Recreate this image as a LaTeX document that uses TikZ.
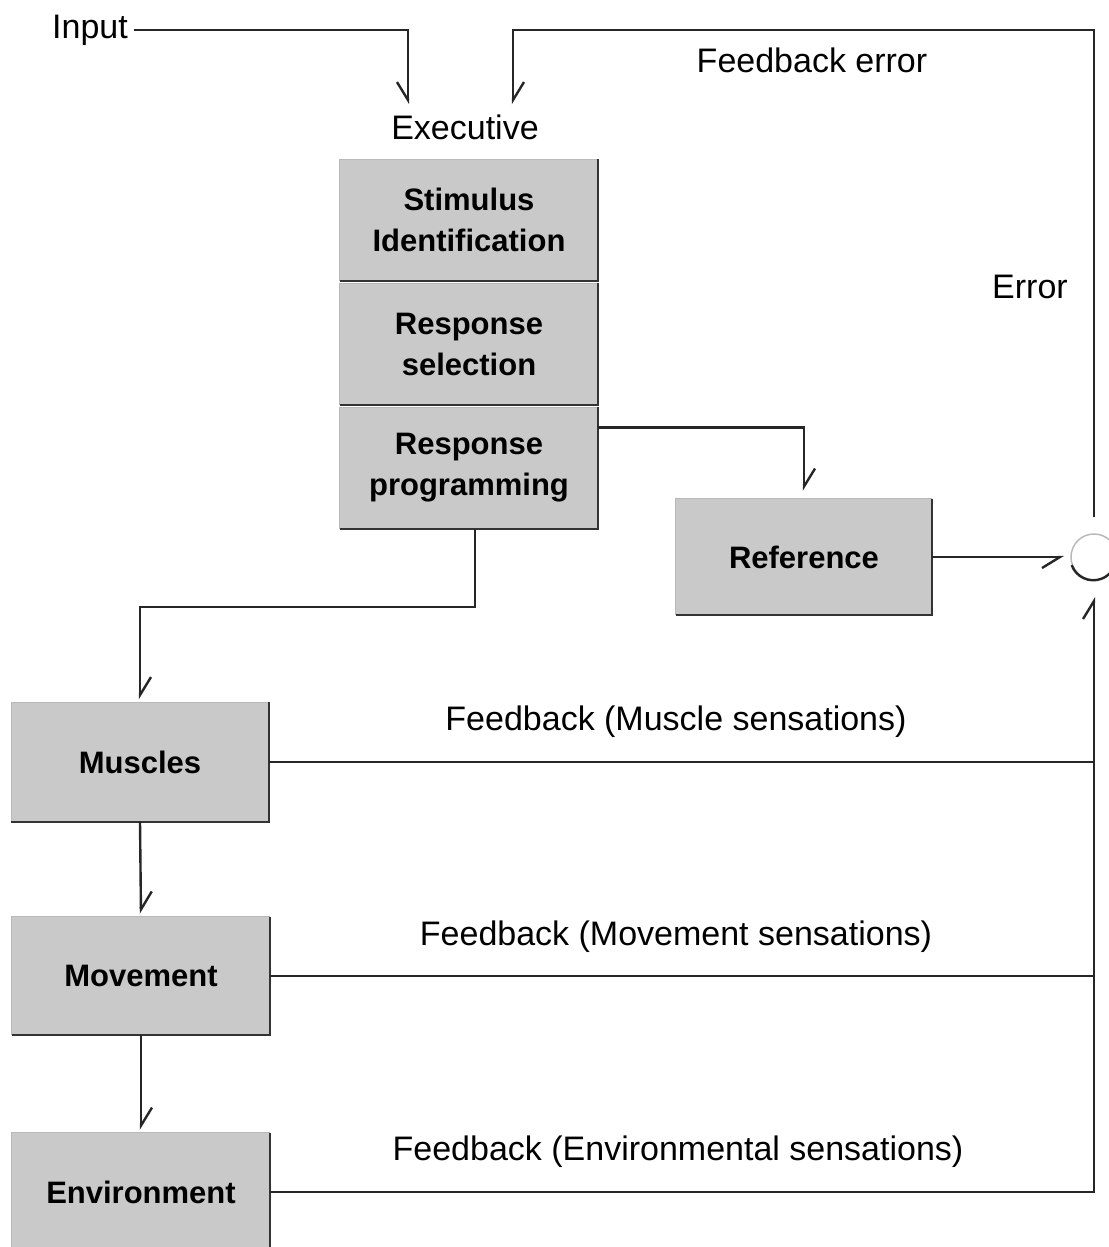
\documentclass[tikz,border=0pt]{standalone}
\usepackage{fontspec}
\setmainfont{Liberation Sans}
\usetikzlibrary{arrows.meta}
\begin{document}
\begin{tikzpicture}[x=1pt,y=-1pt,
  lbl/.style={font=\fontsize{34}{38}\selectfont, inner sep=0pt},
  blk/.style={fill=gray!42, draw=none, font=\fontsize{31}{41}\selectfont\bfseries, align=center,
    minimum width=258pt, minimum height=121pt, inner sep=0pt},
  conn/.style={line width=2.4pt, draw=black!85},
  tipL/.style={-{Straight Barb[harpoon,length=18pt,width=22pt,line width=2.4pt]}},
  tipR/.style={-{Straight Barb[harpoon,swap,length=18pt,width=22pt,line width=2.4pt]}},
  shade/.style={line width=2.2pt, draw=black!80},
  faint/.style={line width=1pt, draw=gray!55}
]
\useasboundingbox (0,0) rectangle (1108,1247);

% labels
\node[lbl] (in) at (90,30) {Input};
\node[lbl] (exec) at (465,127) {Executive};
\node[lbl] (fer) at (812,60) {Feedback error};
\node[lbl] (err) at (1030,287) {Error};
\node[lbl] (fm) at (676,722) {Feedback (Muscle sensations)};
\node[lbl] (fv) at (676,937) {Feedback (Movement sensations)};
\node[lbl] (fe) at (678,1152) {Feedback (Environmental sensations)};

% blocks
\node[blk] (si) at (469,220) {Stimulus\\Identification};
\node[blk] (rs) at (469,344) {Response\\selection};
\node[blk] (rp) at (469,468) {Response\\programming};
\node[blk, minimum width=256pt, minimum height=116pt] (ref) at (804,557) {Reference};
\node[blk, minimum width=257pt, minimum height=119pt] (mus) at (140,762) {Muscles};
\node[blk, minimum height=118pt] (mov) at (141,976) {Movement};
\node[blk, minimum height=118pt] (env) at (141,1192) {Environment};

\foreach \n in {si,rs,rp,ref,mus,mov,env}{
  \draw[faint] (\n.south west) -- (\n.north west) -- (\n.north east);
  \draw[shade] (\n.north east) -- (\n.south east) -- (\n.south west);
}

% comparator
\node[circle, draw=gray!55, line width=1.5pt, minimum size=46pt, inner sep=0pt] (cmp) at (1094,557) {};
\draw[line width=2.4pt, black!85] (cmp.200) arc[start angle=200, end angle=320, radius=23pt];

% connectors
\draw[conn, tipR, shorten <=6pt] (in.east) -| ([xshift=-57pt,yshift=10pt]exec.north);
\draw[conn, tipL, shorten <=16pt] (cmp.north) -- (cmp.north |- in.east) -| ([xshift=48pt,yshift=10pt]exec.north);
\draw[conn, tipL] ([yshift=-20pt]rp.north east) -| ([yshift=8pt]ref.north);
\draw[conn, tipL] ([xshift=6pt]rp.south) -- ++(0,78) -| ([yshift=3pt]mus.north);
\draw[conn, tipL] (mus.south) -- ([yshift=3pt]mov.north);
\draw[conn, tipL] (mov.south) -- ([yshift=3pt]env.north);
\draw[conn, tipR] (ref.east) -- ([xshift=-6pt]cmp.west);
\draw[conn] (mus.east) -- (mus.east -| cmp.center);
\draw[conn] (mov.east) -- (mov.east -| cmp.center);
\draw[conn, tipL] (env.east) -| ([yshift=-16pt]cmp.south);
\end{tikzpicture}
\end{document}
